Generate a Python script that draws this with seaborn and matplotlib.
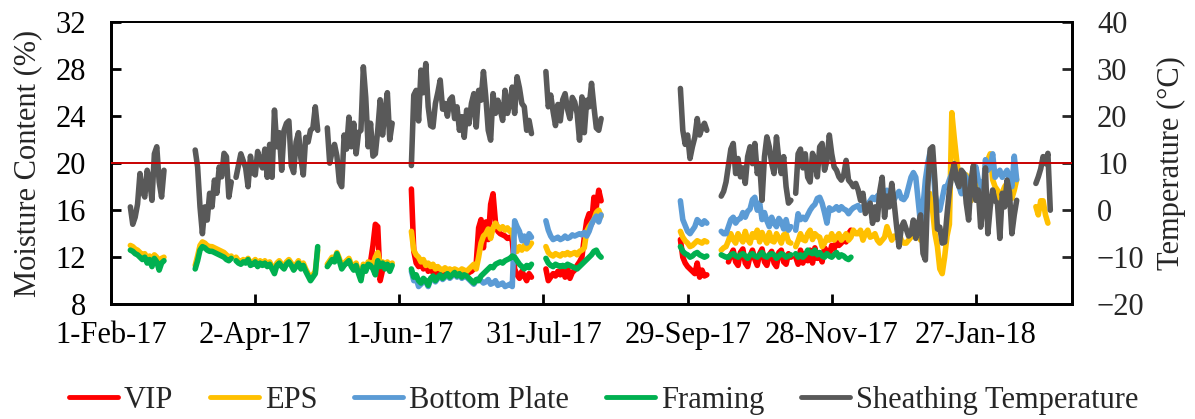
import pandas as pd
import seaborn as sns
import matplotlib
matplotlib.use('Agg')
import matplotlib.pyplot as plt
from matplotlib.lines import Line2D
from matplotlib.transforms import blended_transform_factory

# daily readings, one list per monitoring period (gaps between periods)
p1_start = "2017-02-09"
p1_temp = [0.7, -3.0, -1.5, 1.3, 7.8, 4.0, 2.8, 8.5, 6.4, 2.1, 12.0, 13.5, 6.0, 2.8, 8.5]
p1_eps = [13.0, 12.9, 12.7, 12.6, 12.4, 12.2, 12.3, 11.9, 12.1, 11.6, 12.2, 12.0, 11.3, 11.9, 12.0]
p1_framing = [12.6, 12.5, 12.3, 12.2, 12.0, 11.8, 12.0, 11.5, 11.8, 11.2, 11.9, 11.6, 10.9, 11.5, 11.7]

p2_start = "2017-03-08"
p2_temp = [12.8, 9.2, 0.7, -5.0, 0.7, -2.1, 3.6, 0.7, 6.4, 3.6, 9.2, 7.1, 12.1, 11.4, 2.8, 6.0]
p2_eps = [11.3, 12.1, 13.0, 13.3, 13.2, 13.0, 12.9, 12.9, 12.8, 12.7, 12.6, 12.5, 12.4, 12.2, 12.0, 12.1]
p2_framing = [11.0, 11.7, 12.6, 12.9, 12.8, 12.6, 12.5, 12.5, 12.4, 12.3, 12.2, 12.1, 12.0, 11.8, 11.7, 11.9]

p3_start = "2017-03-25"
p3_temp = [7.0, 9.5, 12.0, 10.5, 9.0, 5.0, 11.5, 8.0, 7.5, 12.5, 10.5, 9.0, 13.0, 7.0, 14.0, 7.0, 21.3, 13.5,
           16.5, 8.5, 17.0, 18.5, 19.0, 9.5, 8.0, 14.5, 16.5, 11.0, 7.5, 15.5, 14.5, 17.0, 17.5, 22.0, 17.0]
p3_eps = [12.0, 11.7, 11.6, 11.8, 11.6, 11.9, 11.5, 11.6, 11.8, 11.4, 11.7, 11.5, 11.7, 11.4, 11.6, 11.2, 10.8, 11.5,
          11.7, 11.4, 11.2, 11.6, 11.8, 11.5, 11.1, 11.4, 11.7, 11.2, 11.5, 11.0, 10.6, 10.2, 10.5, 10.8, 12.6]
p3_framing = [11.7, 11.5, 11.4, 11.6, 11.5, 11.8, 11.3, 11.4, 11.6, 11.2, 11.5, 11.3, 11.5, 11.2, 11.4, 11.0, 10.6, 11.3,
              11.5, 11.2, 11.0, 11.4, 11.6, 11.3, 10.9, 11.2, 11.5, 11.0, 11.3, 10.8, 10.4, 10.0, 10.3, 10.6, 12.9]

p4_start = "2017-05-02"
p4_temp = [17.5, 10.0, 12.5, 14.0, 11.5, 6.0, 5.0, 16.0, 13.0, 19.8, 13.5, 18.5, 12.0, 16.5,
           17.0, 30.5, 24.0, 13.5, 18.5, 11.5, 12.0, 17.0, 23.5, 16.0, 21.0, 25.0, 15.0, 18.5]
p4_eps = [11.4, 11.7, 12.0, 11.8, 12.4, 11.9, 11.2, 11.5, 11.7, 11.9, 11.4, 11.1, 11.5, 10.8,
          10.2, 11.4, 11.0, 11.6, 11.5, 11.3, 12.0, 12.4, 11.4, 11.6, 11.2, 11.6, 11.0, 11.5]
p4_framing = [11.2, 11.5, 11.8, 11.6, 12.3, 11.7, 11.0, 11.3, 11.5, 11.7, 11.2, 10.9, 11.3, 10.6,
              10.0, 11.2, 10.8, 11.4, 11.3, 11.0, 10.5, 11.7, 11.2, 11.5, 11.0, 11.4, 10.8, 11.3]
p4_vip_start = "2017-05-19"
p4_vip = [11.3, 11.6, 13.0, 14.8, 14.6, 10.0, 10.9]

p5_start = "2017-06-06"
p5_temp = [9.5, 24.5, 25.5, 19.0, 29.8, 25.0, 31.2, 22.0, 18.0, 17.7, 22.7, 25.0, 27.7, 21.5, 22.7, 20.0, 23.5,
           24.1, 19.5, 22.0, 17.0, 19.9, 15.5, 21.3, 18.4, 22.7, 24.8, 17.7, 25.5, 23.4, 29.5, 24.0, 17.0, 14.9,
           24.8, 20.6, 23.4, 21.3, 19.1, 25.5, 20.6, 22.7, 26.2, 20.6, 28.4, 26.0, 22.7, 22.0, 17.0, 19.1, 16.3]
p5_vip = [17.8, 12.5, 11.5, 11.2, 11.6, 11.0, 11.4, 10.8, 11.0, 10.7, 10.8, 10.6, 10.7, 10.5, 10.6, 10.4, 10.6,
          10.5, 10.7, 10.5, 10.6, 10.4, 10.6, 10.5, 10.7, 10.8, 11.0, 11.5, 14.5, 15.2, 12.8, 15.0, 13.5, 16.5,
          17.4, 15.0, 14.2, 14.0, 13.9, 13.8, 13.6, 13.7, 13.4, 11.0, 10.5, 10.2, 10.8, 10.4, 10.0, 10.6, 10.3]
p5_eps = [14.2, 12.6, 12.2, 12.0, 11.6, 11.8, 11.3, 11.5, 11.2, 11.4, 11.0, 11.2, 11.0, 10.9, 11.1, 10.9, 11.0,
          10.8, 11.0, 10.9, 10.8, 11.0, 10.9, 10.8, 11.0, 11.2, 11.4, 11.0, 12.0, 13.2, 13.8, 14.0, 14.4, 13.6,
          14.5, 14.9, 14.6, 14.4, 14.6, 14.3, 14.5, 14.2, 14.3, 12.8, 12.5, 12.9, 12.6, 13.0, 12.7, 12.9, 13.2]
p5_bottom = [10.8, 10.0, 10.2, 9.5, 9.7, 9.9, 9.9, 9.5, 10.1, 10.3, 9.9, 10.2, 10.4, 10.1, 10.3, 10.5, 10.2,
             10.4, 10.6, 10.3, 10.5, 10.2, 10.4, 10.3, 10.1, 9.9, 9.7, 10.0, 10.2, 10.0, 9.8, 9.9, 10.1, 9.7,
             9.8, 10.0, 9.6, 9.7, 9.8, 9.5, 9.6, 9.7, 9.5, 15.1, 14.6, 14.2, 13.4, 13.8, 13.2, 14.0, 13.7]
p5_framing = [11.0, 10.3, 10.5, 10.0, 9.8, 10.2, 10.0, 9.6, 10.2, 10.4, 10.0, 10.3, 10.5, 10.2, 10.4, 10.6, 10.3,
              10.5, 10.7, 10.4, 10.6, 10.3, 10.5, 10.4, 10.2, 10.0, 9.8, 10.1, 10.0, 10.4, 10.6, 10.8, 11.0, 11.2,
              11.1, 11.4, 11.5, 11.6, 11.5, 11.7, 11.8, 11.9, 12.1, 12.0, 11.7, 11.4, 11.2, 11.0, 11.3, 11.1, 11.4]

p6_start = "2017-08-01"
p6_temp = [29.5, 22.0, 24.5, 21.0, 18.0, 22.5, 19.0, 23.5, 24.8, 21.5, 19.5, 24.0,
           23.0, 20.6, 14.9, 24.1, 16.5, 23.4, 22.0, 27.0, 22.0, 17.5, 17.0, 19.5]
p6_vip = [11.0, 10.0, 10.3, 10.6, 10.4, 10.8, 10.5, 10.9, 10.3, 11.1, 10.2, 10.7,
          10.9, 11.3, 11.6, 12.0, 13.7, 15.1, 15.7, 14.8, 17.1, 16.3, 17.7, 16.8]
p6_eps = [12.9, 12.4, 12.2, 12.1, 12.3, 12.2, 12.1, 12.3, 12.2, 12.4, 12.2, 12.3,
          12.4, 12.2, 12.5, 12.6, 12.8, 14.2, 14.6, 14.9, 15.2, 15.8, 16.0, 15.5]
p6_bottom = [15.1, 14.3, 13.8, 13.5, 13.6, 13.7, 13.5, 13.6, 13.8, 13.6, 13.7, 13.9,
             13.8, 13.9, 14.0, 13.9, 14.1, 13.8, 14.2, 14.8, 15.2, 15.5, 15.0, 15.6]
p6_framing = [11.9, 11.5, 11.3, 11.2, 11.4, 11.3, 11.2, 11.3, 11.2, 11.4, 11.3, 11.2,
              11.1, 11.0, 11.2, 11.4, 11.6, 11.8, 12.0, 12.2, 12.5, 12.6, 12.2, 12.0]

p7_start = "2017-09-26"
p7_temp = [25.9, 17.0, 14.0, 16.0, 11.0, 13.5, 15.5, 19.5, 16.0, 17.5, 18.5, 17.0]
p7_vip = [13.5, 12.0, 11.5, 11.2, 11.0, 10.8, 10.6, 11.5, 10.3, 10.9, 10.4, 10.5]
p7_eps = [14.2, 13.7, 13.4, 13.2, 12.9, 13.0, 13.2, 13.4, 13.3, 13.2, 13.4, 13.3]
p7_bottom = [16.8, 15.2, 14.7, 14.2, 14.0, 14.3, 14.6, 15.2, 15.0, 14.8, 15.1, 14.9]
p7_framing = [12.9, 12.5, 12.3, 12.2, 12.0, 12.1, 12.3, 12.4, 12.2, 12.1, 12.0, 12.1]

p8_start = "2017-10-13"
p8_temp = [3.0, 4.0, 6.0, 9.5, 13.0, 14.2, 7.8, 11.0, 7.1, 9.0, 5.7, 11.4, 13.5, 9.9, 14.2,
           7.8, 9.9, 2.1, 11.4, 15.6, 13.5, 10.0, 7.8, 15.6, 10.6, 7.8, 11.4, 5.0, 1.5, 2.1]
p8_eps = [12.6, 12.8, 12.9, 13.4, 14.0, 13.5, 13.2, 14.0, 13.6, 13.3, 14.2, 13.5, 13.2, 14.0, 13.7,
          14.3, 13.3, 14.1, 13.6, 13.2, 14.1, 13.4, 13.3, 14.0, 13.6, 13.2, 13.9, 14.0, 13.3, 13.2]
p8_bottom = [14.2, 14.0, 14.0, 14.6, 15.2, 15.4, 14.9, 15.2, 15.3, 15.8, 15.4, 15.9, 16.1, 16.9, 17.1,
             16.0, 16.6, 15.2, 15.8, 15.1, 14.6, 15.4, 14.9, 14.6, 15.3, 15.0, 14.4, 15.2, 14.3, 14.6]
p8_framing = [12.2, 12.1, 12.0, 12.0, 12.2, 12.3, 12.1, 12.0, 12.2, 12.3, 12.1, 11.9, 12.2, 12.3, 12.1,
              12.0, 12.2, 12.4, 12.1, 12.0, 12.2, 12.3, 12.2, 11.9, 12.1, 12.3, 12.2, 12.0, 12.1, 12.2]
p8_vip_start = "2017-10-16"
p8_vip = [11.6, 12.2, 12.6, 11.6, 11.3, 12.4, 12.7, 11.5, 11.2, 12.1, 12.6, 11.8, 11.3, 12.3,
          12.7, 11.6, 11.3, 12.2, 12.5, 11.5, 11.2, 12.4, 12.6, 11.6, 11.4, 12.3, 12.0]

p9_start = "2017-11-13"
p9_temp = [3.6, 12.0, 13.0, 9.0, 12.0, 7.0, 6.0, 12.1, 10.6, 7.1, 13.5, 14.2, 8.5, 10.5, 16.0,
           12.0, 9.2, 8.5, 7.1, 6.4, 7.5, 10.6, 6.4, 5.8, 5.0, 5.7, 4.3, 2.1, 3.6, -0.7,
           0.5, 1.5, -2.8, 0.7, -2.0, 4.0, 7.0, -1.5, 3.0, 0.7, 5.7, 1.5, -3.4, -7.8, -3.6,
           -2.5, -4.0, -5.5, -5.0, -2.1, -6.0, -3.0, -1.0, -9.2, -10.6, 5.0, 13.0, 13.5, 6.0, -4.0,
           -3.6, -7.0, -6.8, -1.0, 4.3, 7.5, 9.9, 6.4, 5.0, 8.5, 7.8, 1.5, -2.1, 6.4, 9.5,
           2.1, 4.3, -3.6, 0.7, 9.0, -5.0, 0.7, 4.3, 2.0, 1.5, -6.0, 3.6, 0.7, 6.4, 3.8,
           -5.0, -1.0, 2.1]
p9_eps = [12.9, 13.4, 14.0, 13.5, 13.4, 14.0, 14.3, 13.5, 14.0, 13.8, 13.7, 12.9, 13.2, 13.7, 13.45,
          14.0, 13.45, 13.7, 14.0, 13.45, 13.7, 14.0, 13.45, 13.7, 14.3, 14.0, 14.0, 14.3, 13.45, 14.0,
          14.3, 13.7, 13.8, 14.0, 13.45, 13.2, 13.45, 13.7, 14.6, 14.0, 13.45, 13.8, 13.7, 14.0, 13.45,
          13.2, 13.2, 13.45, 13.7, 14.6, 14.0, 14.0, 13.45, 13.7, 15.2, 16.8, 17.4, 16.0, 14.0, 12.9,
          11.0, 10.6, 12.0, 13.8, 14.8, 24.3, 22.2, 20.3, 18.8, 18.0, 17.4, 19.0, 17.5, 16.8, 18.5,
          19.5, 18.0, 17.2, 16.5, 19.8, 20.3, 20.8, 18.6, 18.0, 17.7, 17.0, 17.5, 18.0, 18.3, 17.7,
          17.0, 17.7, 18.6]
p9_bottom = [14.3, 15.7, 15.2, 15.4, 15.2, 15.6, 16.0, 16.3, 16.5, 17.0, 17.1, 16.6, 15.8, 14.9, 16.2,
             16.0, 16.1, 16.3, 16.0, 16.3, 16.1, 16.0, 15.7, 16.0, 16.2, 16.3, 16.4, 16.0, 16.3, 16.4,
             16.5, 16.8, 17.1, 16.9, 17.2, 17.4, 16.9, 17.1, 17.7, 17.3, 17.0, 16.9, 17.3, 17.6, 17.0,
             16.9, 17.2, 18.0, 18.8, 19.2, 18.8, 16.8, 14.8, 16.3, 18.6, 20.0, 21.0, 20.3, 17.4, 16.3,
             16.0, 17.0, 18.0, 18.0, 18.6, 19.1, 19.7, 18.6, 18.0, 17.4, 19.1, 18.8, 16.9, 18.0, 19.1,
             19.7, 18.6, 18.3, 16.9, 20.3, 19.4, 19.7, 20.8, 18.8, 19.1, 19.4, 18.8, 19.1, 19.4, 18.6,
             18.0, 20.6, 18.6]
p9_vip = [12.0, 11.4, 12.6, 11.5, 12.3, 11.7, 12.6, 11.5, 12.8, 11.9, 12.3, 11.6,
          12.8, 12.5, 12.2, 13.0, 12.7, 13.3, 13.0, 13.2, 13.6, 13.3, 14.0, 14.3]
p9_framing = [12.3, 12.0, 12.2, 12.0, 12.2, 12.6, 12.4, 12.3, 12.6, 12.2, 12.4, 12.1,
              12.0, 12.3, 12.1, 12.0, 12.2, 12.4, 12.0, 12.2, 12.1, 11.9, 11.8, 12.0]

p10_start = "2018-02-21"
p10_temp = [5.7, 7.1, 8.8, 11.4, 9.9, 12.1, 0.0]
p10_eps = [16.3, 15.6, 16.8, 16.8, 15.6, 14.9]

threshold_mc = 20
series_order = ["VIP", "EPS", "Bottom Plate", "Framing"]
series_colors = {"VIP": "#FF0000", "EPS": "#FFC000", "Bottom Plate": "#5B9BD5", "Framing": "#00B050"}
temp_label = "Sheathing Temperature"
temp_color = "#595959"

mc_segments = [
    ("EPS", p1_start, p1_eps), ("Framing", p1_start, p1_framing),
    ("EPS", p2_start, p2_eps), ("Framing", p2_start, p2_framing),
    ("EPS", p3_start, p3_eps), ("Framing", p3_start, p3_framing),
    ("VIP", p4_vip_start, p4_vip), ("EPS", p4_start, p4_eps), ("Framing", p4_start, p4_framing),
    ("VIP", p5_start, p5_vip), ("EPS", p5_start, p5_eps), ("Bottom Plate", p5_start, p5_bottom),
    ("Framing", p5_start, p5_framing),
    ("VIP", p6_start, p6_vip), ("EPS", p6_start, p6_eps), ("Bottom Plate", p6_start, p6_bottom),
    ("Framing", p6_start, p6_framing),
    ("VIP", p7_start, p7_vip), ("EPS", p7_start, p7_eps), ("Bottom Plate", p7_start, p7_bottom),
    ("Framing", p7_start, p7_framing),
    ("VIP", p8_vip_start, p8_vip), ("EPS", p8_start, p8_eps), ("Bottom Plate", p8_start, p8_bottom),
    ("Framing", p8_start, p8_framing),
    ("VIP", p9_start, p9_vip), ("EPS", p9_start, p9_eps), ("Bottom Plate", p9_start, p9_bottom),
    ("Framing", p9_start, p9_framing),
    ("EPS", p10_start, p10_eps),
]
temp_segments = [(p1_start, p1_temp), (p2_start, p2_temp), (p3_start, p3_temp), (p4_start, p4_temp),
                 (p5_start, p5_temp), (p6_start, p6_temp), (p7_start, p7_temp), (p8_start, p8_temp),
                 (p9_start, p9_temp), (p10_start, p10_temp)]


def to_frame(segments):
    parts = []
    for i, (name, start, vals) in enumerate(segments):
        dates = pd.date_range(start, periods=len(vals), freq="D")
        parts.append(pd.DataFrame({"date": dates, "value": vals, "series": name, "seg": i}))
    return pd.concat(parts, ignore_index=True)


mc_df = to_frame(mc_segments)
temp_df = to_frame([(temp_label, s, v) for s, v in temp_segments])

sns.set_style("ticks")
plt.rcParams['font.family'] = ['Liberation Serif', 'DejaVu Serif']
fs = 22
lw = 4.0

fig = plt.figure(figsize=(11.95, 4.19), dpi=100)
ax = fig.add_axes([0.093, 0.274, 0.804, 0.673])

sns.lineplot(data=mc_df, x="date", y="value", hue="series", hue_order=series_order,
             palette=series_colors, units="seg", estimator=None, sort=False,
             linewidth=lw, ax=ax, legend=False)

ax2 = ax.twinx()
sns.lineplot(data=temp_df, x="date", y="value", units="seg", estimator=None, sort=False,
             color=temp_color, linewidth=lw, ax=ax2, legend=False)

# 20 % threshold, drawn on top of all series
trans = blended_transform_factory(ax2.transAxes, ax.transData)
ax2.plot([0, 1], [threshold_mc, threshold_mc], transform=trans, color="#C80000", lw=1.4, zorder=5)

ax.set_xlim(pd.Timestamp("2017-02-01"), pd.Timestamp("2018-03-08"))
ax.set_ylim(8, 32)
ax.set_yticks(range(8, 33, 4))
ax2.set_ylim(-20, 40)
ax2.set_yticks(range(-20, 41, 10))

ticks = pd.date_range("2017-02-01", "2018-01-27", freq="60D")
ax.set_xticks(ticks)
ax.set_xticklabels([f"{d.day}-{d.strftime('%b-%y')}" for d in ticks])

ax.set_xlabel("")
ax.set_ylabel("Moisture Content (%)", fontsize=fs)
ax2.set_ylabel("Temperature (°C)", fontsize=fs)
ax.yaxis.set_label_coords(-0.072, 0.5)
ax2.yaxis.set_label_coords(1.088, 0.5)

ax.tick_params(axis="both", direction="in", length=7, width=2, labelsize=fs, colors="black")
ax.tick_params(axis="x", pad=12)
ax.tick_params(axis="y", pad=18)
ax2.tick_params(axis="y", direction="in", length=7, width=2, labelsize=fs, pad=18)

for a in (ax, ax2):
    for side in ("left", "bottom", "right"):
        a.spines[side].set_linewidth(2)
        a.spines[side].set_color("black")
    a.spines["top"].set_linewidth(1.3)
    a.spines["top"].set_color("black")
    a.spines["top"].set_visible(True)
    a.spines["right"].set_visible(True)

handles = [Line2D([], [], color=series_colors[s], lw=3.5) for s in series_order]
handles.append(Line2D([], [], color=temp_color, lw=3.5))
labels = series_order + [temp_label]
fig.legend(handles, labels, loc="center", bbox_to_anchor=(0.505, 0.045), ncol=5, frameon=False,
           fontsize=fs, handlelength=1.6, handletextpad=0.2, columnspacing=1.2)

fig.savefig("out.png", dpi=100)
